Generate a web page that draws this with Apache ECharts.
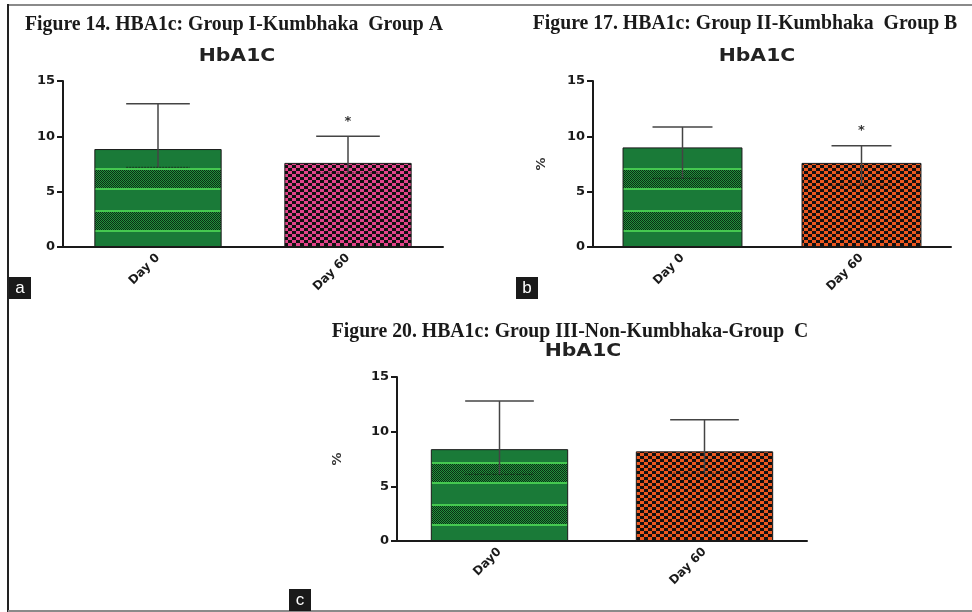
<!DOCTYPE html>
<html>
<head>
<meta charset="utf-8">
<script src="https://cdn.jsdelivr.net/npm/echarts@6/dist/echarts.min.js"></script>
<style>
  html, body { margin: 0; padding: 0; background: #fff; }
  #chart { width: 972px; height: 612px; }
</style>
</head>
<body>
<div id="chart"></div>
<script>
// values (HbA1c, %)
const categoriesAB = ['Day 0', 'Day 60'];
const categoriesC = ['Day0', 'Day 60'];
const yTicks = [0, 5, 10, 15];

const meanA = [8.85, 7.6];
const upperA = [12.95, 10.0];
const lowerA = [7.2, 6.7];
const sigA = ['', '*'];

const meanB = [9.0, 7.6];
const upperB = [10.85, 9.15];
const lowerB = [6.2, 5.6];
const sigB = ['', '*'];

const meanC = [8.4, 8.2];
const upperC = [12.8, 11.1];
const lowerC = [6.1, 6.2];
const sigC = ['', ''];

const titles = [
  'Figure 14. HBA1c: Group I-Kumbhaka  Group A',
  'Figure 17. HBA1c: Group II-Kumbhaka  Group B',
  'Figure 20. HBA1c: Group III-Non-Kumbhaka-Group  C'
];

// fill textures
function greenTexture() {
  const c = document.createElement('canvas');
  c.width = 4; c.height = 42;
  const g = c.getContext('2d');
  g.fillStyle = '#1a7a38';
  g.fillRect(0, 0, 4, 42);
  g.fillStyle = '#45c850';
  g.fillRect(0, 0, 4, 2);
  g.fillRect(0, 20, 4, 2);
  for (let y = 2; y < 20; y++) {
    for (let x = 0; x < 4; x++) {
      g.fillStyle = (x + y) % 2 === 0 ? '#0a2e14' : '#23903c';
      g.fillRect(x, y, 1, 1);
    }
  }
  return c;
}

function checkTexture(col) {
  const c = document.createElement('canvas');
  c.width = 8; c.height = 6;
  const g = c.getContext('2d');
  g.fillStyle = col;
  g.fillRect(0, 0, 8, 6);
  g.fillStyle = '#111';
  g.fillRect(0, 0, 4, 3);
  g.fillRect(4, 3, 4, 3);
  return c;
}

const greenFill = { image: greenTexture(), repeat: 'repeat' };
const pinkFill = { image: checkTexture('#e3448a'), repeat: 'repeat' };
const orangeFill = { image: checkTexture('#ec5820'), repeat: 'repeat' };

const chart = echarts.init(document.getElementById('chart'));

const grids = [
  { left: 63, top: 81, width: 380, height: 166 },
  { left: 593, top: 81, width: 358, height: 166 },
  { left: 397, top: 377, width: 410, height: 164 }
];

function xAxisFor(i, cats) {
  return {
    type: 'category', gridIndex: i, data: cats,
    axisLine: { lineStyle: { color: '#1a1a1a', width: 2 } },
    axisTick: { alignWithLabel: true, length: 6, lineStyle: { color: '#1a1a1a', width: 2 } },
    axisLabel: {
      rotate: 45, margin: 9, color: '#1a1a1a',
      fontFamily: 'DejaVu Sans', fontWeight: 'bold', fontSize: 12
    }
  };
}

function yAxisFor(i, name, gap) {
  return {
    type: 'value', gridIndex: i, min: yTicks[0], max: yTicks[yTicks.length - 1], interval: 5,
    name: name, nameLocation: 'middle', nameGap: gap, nameRotate: 90,
    nameTextStyle: { color: '#333', fontFamily: 'DejaVu Sans', fontWeight: 'bold', fontSize: 13 },
    axisLine: { show: true, lineStyle: { color: '#1a1a1a', width: 2 } },
    axisTick: { show: true, length: 6, lineStyle: { color: '#1a1a1a', width: 2 } },
    splitLine: { show: false },
    axisLabel: { color: '#1a1a1a', margin: 8, fontFamily: 'DejaVu Sans', fontWeight: 'bold', fontSize: 13 }
  };
}

function barSeries(i, means, fills) {
  return {
    type: 'bar', xAxisIndex: i, yAxisIndex: i, barWidth: '67%',
    data: means.map((v, k) => ({
      value: v,
      itemStyle: { color: fills[k], borderColor: '#1a1a1a', borderWidth: 1 }
    })),
    silent: true
  };
}

function errorSeries(i, upper, lower, sig) {
  return {
    type: 'custom', xAxisIndex: i, yAxisIndex: i, z: 5, silent: true,
    data: upper.map((u, k) => [k, u, lower[k]]),
    renderItem: function (params, api) {
      const top = api.coord([api.value(0), api.value(1)]);
      const low = api.coord([api.value(0), api.value(2)]);
      const half = api.size([1, 0])[0] * 0.67 * 0.25;
      const kids = [
        { type: 'line', shape: { x1: top[0], y1: top[1], x2: low[0], y2: low[1] },
          style: { stroke: '#444', lineWidth: 1.5 } },
        { type: 'line', shape: { x1: top[0] - half, y1: top[1], x2: top[0] + half, y2: top[1] },
          style: { stroke: '#444', lineWidth: 1.5 } },
        { type: 'line', shape: { x1: low[0] - half, y1: low[1], x2: low[0] + half, y2: low[1] },
          style: { stroke: 'rgba(20,20,20,0.55)', lineWidth: 1.2, lineDash: [2, 1] } }
      ];
      const s = sig[params.dataIndex];
      if (s) {
        kids.push({ type: 'text', x: top[0], y: top[1] - 15,
          style: { text: s, fill: '#333', font: 'bold 13px "DejaVu Sans"', align: 'center', verticalAlign: 'middle' } });
      }
      return { type: 'group', children: kids };
    }
  };
}

function heading(text, x, y) {
  return { type: 'text', x: x, y: y, scaleX: 0.94,
    style: { text: text, fill: '#1a1a1a', font: 'bold 21px "Liberation Serif"', align: 'center', verticalAlign: 'middle' } };
}
function subHeading(x, y) {
  return { type: 'text', x: x, y: y, scaleX: 1.2,
    style: { text: 'HbA1C', fill: '#222', font: 'bold 17px "DejaVu Sans"', align: 'center', verticalAlign: 'middle' } };
}
function panelTag(letter, x, y) {
  return { type: 'group', x: x, y: y, children: [
    { type: 'rect', shape: { x: 0, y: 0, width: 22, height: 22 }, style: { fill: '#1a1a1a' } },
    { type: 'text', x: 11, y: 11, style: { text: letter, fill: '#fff', font: '17px "Liberation Sans"', align: 'center', verticalAlign: 'middle' } }
  ] };
}

chart.setOption({
  animation: false,
  grid: grids,
  xAxis: [xAxisFor(0, categoriesAB), xAxisFor(1, categoriesAB), xAxisFor(2, categoriesC)],
  yAxis: [yAxisFor(0, '', 40), yAxisFor(1, '%', 45), yAxisFor(2, '%', 53)],
  series: [
    barSeries(0, meanA, [greenFill, pinkFill]),
    errorSeries(0, upperA, lowerA, sigA),
    barSeries(1, meanB, [greenFill, orangeFill]),
    errorSeries(1, upperB, lowerB, sigB),
    barSeries(2, meanC, [greenFill, orangeFill]),
    errorSeries(2, upperC, lowerC, sigC)
  ],
  graphic: [
    { type: 'line', shape: { x1: 8, y1: 5, x2: 972, y2: 5 }, style: { stroke: '#8a8a8a', lineWidth: 2 } },
    { type: 'line', shape: { x1: 8, y1: 4, x2: 8, y2: 612 }, style: { stroke: '#222', lineWidth: 2 } },
    { type: 'line', shape: { x1: 8, y1: 611, x2: 972, y2: 611 }, style: { stroke: '#8a8a8a', lineWidth: 2 } },
    heading(titles[0], 234, 25),
    heading(titles[1], 745, 24),
    heading(titles[2], 570, 332),
    subHeading(237, 57),
    subHeading(757, 57),
    subHeading(583, 352),
    panelTag('a', 9, 277),
    panelTag('b', 516, 277),
    panelTag('c', 289, 589)
  ]
});
</script>
</body>
</html>
